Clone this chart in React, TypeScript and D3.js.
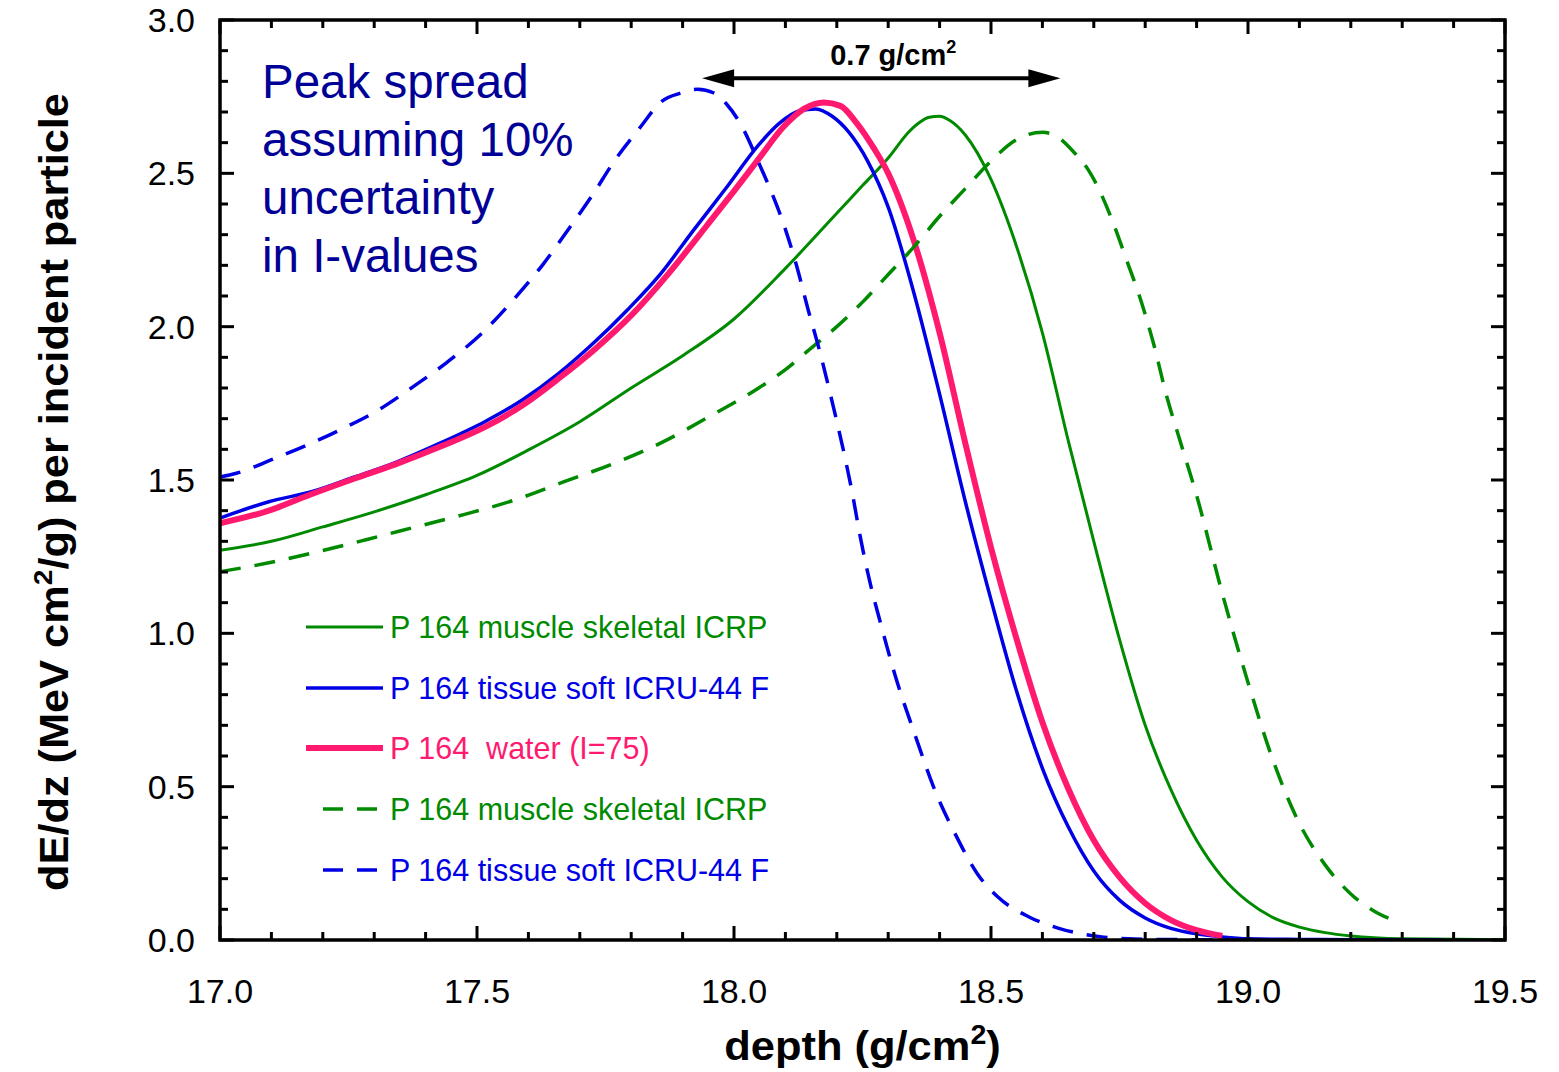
import React from 'react';
import * as d3 from 'd3';

// depth (g/cm2) and dE/dz values
const muscleX = [17.0, 17.1, 17.2, 17.3, 17.4, 17.5, 17.6, 17.7, 17.8, 17.9, 18.0, 18.1, 18.2, 18.25, 18.3, 18.34, 18.36, 18.38, 18.4, 18.42, 18.45, 18.5, 18.55, 18.6, 18.65, 18.7, 18.75, 18.8, 18.85, 18.9, 18.95, 19.0, 19.05, 19.1, 19.15, 19.2, 19.3, 19.5];
const muscleY = [1.271, 1.3, 1.347, 1.396, 1.452, 1.515, 1.598, 1.69, 1.8, 1.905, 2.025, 2.19, 2.37, 2.46, 2.55, 2.635, 2.665, 2.683, 2.686, 2.672, 2.625, 2.48, 2.26, 1.98, 1.63, 1.3, 0.98, 0.7, 0.49, 0.325, 0.205, 0.125, 0.072, 0.042, 0.024, 0.013, 0.004, 0.001];

const tissueX = [17.0, 17.095, 17.183, 17.262, 17.341, 17.429, 17.516, 17.588, 17.659, 17.723, 17.794, 17.858, 17.921, 17.985, 18.048, 18.088, 18.128, 18.159, 18.191, 18.223, 18.26, 18.3, 18.35, 18.4, 18.45, 18.5, 18.55, 18.6, 18.65, 18.7, 18.75, 18.8, 18.85, 18.9, 18.95, 19.0, 19.1, 19.2, 19.38];
const tissueY = [1.376, 1.429, 1.464, 1.51, 1.557, 1.621, 1.691, 1.761, 1.848, 1.941, 2.057, 2.174, 2.314, 2.453, 2.593, 2.663, 2.704, 2.71, 2.686, 2.635, 2.54, 2.39, 2.11, 1.78, 1.43, 1.11, 0.81, 0.56, 0.37, 0.225, 0.13, 0.072, 0.038, 0.02, 0.01, 0.004, 0.002, 0.001, 0.0];

const waterX = [17.0, 17.095, 17.175, 17.262, 17.341, 17.429, 17.516, 17.588, 17.659, 17.731, 17.802, 17.873, 17.945, 18.0, 18.048, 18.096, 18.136, 18.175, 18.207, 18.239, 18.272, 18.3, 18.35, 18.4, 18.45, 18.5, 18.55, 18.6, 18.65, 18.7, 18.75, 18.8, 18.85, 18.9, 18.95];
const waterY = [1.359, 1.4, 1.452, 1.505, 1.551, 1.609, 1.673, 1.743, 1.831, 1.929, 2.04, 2.174, 2.325, 2.442, 2.547, 2.651, 2.71, 2.731, 2.72, 2.663, 2.582, 2.5, 2.28, 1.98, 1.62, 1.28, 0.98, 0.71, 0.495, 0.325, 0.205, 0.12, 0.065, 0.032, 0.013];

const muscleLoX = [17.0, 17.095, 17.19, 17.286, 17.381, 17.476, 17.572, 17.667, 17.762, 17.858, 17.953, 18.048, 18.1, 18.15, 18.2, 18.25, 18.3, 18.35, 18.4, 18.45, 18.5, 18.55, 18.6, 18.631, 18.664, 18.689, 18.71, 18.738, 18.763, 18.788, 18.817, 18.841, 18.866, 18.9, 18.95, 19.0, 19.05, 19.1, 19.15, 19.2, 19.25, 19.29];
const muscleLoY = [1.201, 1.23, 1.266, 1.306, 1.347, 1.388, 1.434, 1.493, 1.551, 1.621, 1.708, 1.8, 1.86, 1.93, 2.0, 2.08, 2.17, 2.26, 2.36, 2.45, 2.54, 2.61, 2.634, 2.617, 2.564, 2.512, 2.448, 2.337, 2.221, 2.104, 1.94, 1.778, 1.638, 1.45, 1.13, 0.84, 0.58, 0.38, 0.245, 0.15, 0.09, 0.06];

const tissueLoX = [17.0, 17.032, 17.103, 17.171, 17.238, 17.306, 17.373, 17.441, 17.508, 17.572, 17.627, 17.679, 17.723, 17.77, 17.818, 17.858, 17.897, 17.929, 17.961, 17.985, 18.016, 18.048, 18.072, 18.096, 18.12, 18.144, 18.167, 18.191, 18.215, 18.231, 18.245, 18.264, 18.284, 18.314, 18.354, 18.388, 18.433, 18.473, 18.513, 18.573, 18.632, 18.712, 18.78, 18.9, 19.05];
const tissueLoY = [1.51, 1.522, 1.568, 1.615, 1.667, 1.726, 1.801, 1.883, 1.976, 2.09, 2.2, 2.32, 2.425, 2.547, 2.651, 2.733, 2.762, 2.774, 2.762, 2.727, 2.651, 2.535, 2.442, 2.337, 2.209, 2.057, 1.918, 1.755, 1.58, 1.45, 1.32, 1.17, 1.04, 0.86, 0.66, 0.5, 0.337, 0.217, 0.141, 0.076, 0.038, 0.011, 0.003, 0.001, 0.0];

const xTicks = [17.0, 17.5, 18.0, 18.5, 19.0, 19.5];
const yTicks = [0.0, 0.5, 1.0, 1.5, 2.0, 2.5, 3.0];
const noteLines = ['Peak spread', 'assuming 10%', 'uncertainty', 'in I-values'];
const spreadFrom = 17.938;
const spreadTo = 18.635;
const spreadAt = 2.81;

const GREEN = '#008a00';
const BLUE = '#0000e6';
const PINK = '#ff1a70';

const series = [
  { name: 'P 164 muscle skeletal ICRP', xs: muscleX, ys: muscleY, color: GREEN, width: 3, dash: null },
  { name: 'P 164 tissue soft ICRU-44 F', xs: tissueX, ys: tissueY, color: BLUE, width: 3.5, dash: null },
  { name: 'P 164  water (I=75)', xs: waterX, ys: waterY, color: PINK, width: 6, dash: null },
  { name: 'P 164 muscle skeletal ICRP', xs: muscleLoX, ys: muscleLoY, color: GREEN, width: 3.5, dash: '21,14' },
  { name: 'P 164 tissue soft ICRU-44 F', xs: tissueLoX, ys: tissueLoY, color: BLUE, width: 3.5, dash: '21,14' },
];

const W = 1559;
const H = 1072;
const margin = { top: 20, right: 54, bottom: 132, left: 220 };
const FONT = '"Liberation Sans", Arial, Helvetica, sans-serif';

export default function App() {
  const innerW = W - margin.left - margin.right;
  const innerH = H - margin.top - margin.bottom;

  const x = d3.scaleLinear().domain([17.0, 19.5]).range([0, innerW]);
  const y = d3.scaleLinear().domain([0, 3.0]).range([innerH, 0]);

  const line = d3
    .line<[number, number]>()
    .x((d) => x(d[0]))
    .y((d) => y(d[1]))
    .curve(d3.curveMonotoneX);

  const minorX = d3.range(170, 196).map((v) => v / 10);
  const minorY = d3.range(0, 31).map((v) => v / 10);

  const legendY = [627, 688, 748, 809, 870].map((v) => v - margin.top);
  const midSpread = (x(spreadFrom) + x(spreadTo)) / 2;

  return (
    <svg width={W} height={H} style={{ position: 'absolute', left: 0, top: 0, background: '#fff' }} fontFamily={FONT}>
      <defs>
        <clipPath id="plot">
          <rect x={0} y={0} width={innerW} height={innerH} />
        </clipPath>
      </defs>
      <g transform={`translate(${margin.left},${margin.top})`}>
        {/* curves */}
        <g clipPath="url(#plot)">
          {series.map((s, i) => (
            <path
              key={i}
              d={line(s.xs.map((v, j) => [v, s.ys[j]] as [number, number])) || ''}
              fill="none"
              stroke={s.color}
              strokeWidth={s.width}
              strokeDasharray={s.dash || undefined}
              strokeLinejoin="round"
            />
          ))}
        </g>

        {/* ticks, all four sides, inward */}
        {minorX.map((v, i) => {
          const major = Math.abs(v * 2 - Math.round(v * 2)) < 1e-6;
          const len = major ? 14 : 8;
          return (
            <g key={'tx' + i} stroke="#000" strokeWidth={3}>
              <line x1={x(v)} x2={x(v)} y1={innerH} y2={innerH - len} />
              <line x1={x(v)} x2={x(v)} y1={0} y2={len} />
            </g>
          );
        })}
        {minorY.map((v, i) => {
          const major = Math.abs(v * 2 - Math.round(v * 2)) < 1e-6;
          const len = major ? 14 : 8;
          return (
            <g key={'ty' + i} stroke="#000" strokeWidth={3}>
              <line x1={0} x2={len} y1={y(v)} y2={y(v)} />
              <line x1={innerW} x2={innerW - len} y1={y(v)} y2={y(v)} />
            </g>
          );
        })}
        <rect x={0} y={0} width={innerW} height={innerH} fill="none" stroke="#000" strokeWidth={3.5} />

        {/* tick labels */}
        {xTicks.map((v) => (
          <text key={'xl' + v} x={x(v)} y={innerH + 63} textAnchor="middle" fontSize={34} fill="#000">
            {v.toFixed(1)}
          </text>
        ))}
        {yTicks.map((v) => (
          <text key={'yl' + v} x={-25} y={y(v) + 12} textAnchor="end" fontSize={34} fill="#000">
            {v.toFixed(1)}
          </text>
        ))}

        {/* axis titles */}
        <text
          transform={`translate(${innerW / 2},${innerH + 120}) scale(1.06,1)`}
          textAnchor="middle"
          fontSize={41}
          fontWeight="bold"
          fill="#000"
        >
          depth (g/cm<tspan dy={-16} fontSize={27}>2</tspan><tspan dy={16}>)</tspan>
        </text>
        <text
          transform={`translate(${68 - margin.left},${492 - margin.top}) rotate(-90) scale(1.083,1)`}
          textAnchor="middle"
          fontSize={40}
          fontWeight="bold"
          fill="#000"
        >
          dE/dz (MeV cm<tspan dy={-16} fontSize={26}>2</tspan>
          <tspan dy={16}>/g) per incident particle</tspan>
        </text>

        {/* annotation */}
        {noteLines.map((t, i) => (
          <text key={'n' + i} x={42} y={78 + i * 58} fontSize={47.5} fill="#000096">
            {t}
          </text>
        ))}

        {/* peak spread arrow */}
        <g fill="#000" stroke="#000">
          <line x1={x(spreadFrom) + 20} x2={x(spreadTo) - 20} y1={y(spreadAt)} y2={y(spreadAt)} strokeWidth={4} />
          <path
            d={`M${x(spreadFrom)},${y(spreadAt)} L${x(spreadFrom) + 32},${y(spreadAt) - 9} L${x(spreadFrom) + 32},${y(spreadAt) + 9} Z`}
            stroke="none"
          />
          <path
            d={`M${x(spreadTo)},${y(spreadAt)} L${x(spreadTo) - 32},${y(spreadAt) - 9} L${x(spreadTo) - 32},${y(spreadAt) + 9} Z`}
            stroke="none"
          />
        </g>
        <text x={midSpread + 12} y={y(spreadAt) - 13} textAnchor="middle" fontSize={29} fontWeight="bold" fill="#000">
          0.7 g/cm<tspan dy={-12} fontSize={18}>2</tspan>
        </text>

        {/* legend */}
        {series.map((s, i) => (
          <g key={'lg' + i}>
            <line
              x1={s.dash ? 323 - margin.left : 306 - margin.left}
              x2={s.dash ? 378 - margin.left : 383 - margin.left}
              y1={legendY[i]}
              y2={legendY[i]}
              stroke={s.color}
              strokeWidth={s.width}
              strokeDasharray={s.dash ? '20,14' : undefined}
            />
            <text x={390 - margin.left} y={legendY[i] + 11} fontSize={30.5} fill={s.color} style={{ whiteSpace: 'pre' }}>
              {s.name}
            </text>
          </g>
        ))}
      </g>
    </svg>
  );
}
